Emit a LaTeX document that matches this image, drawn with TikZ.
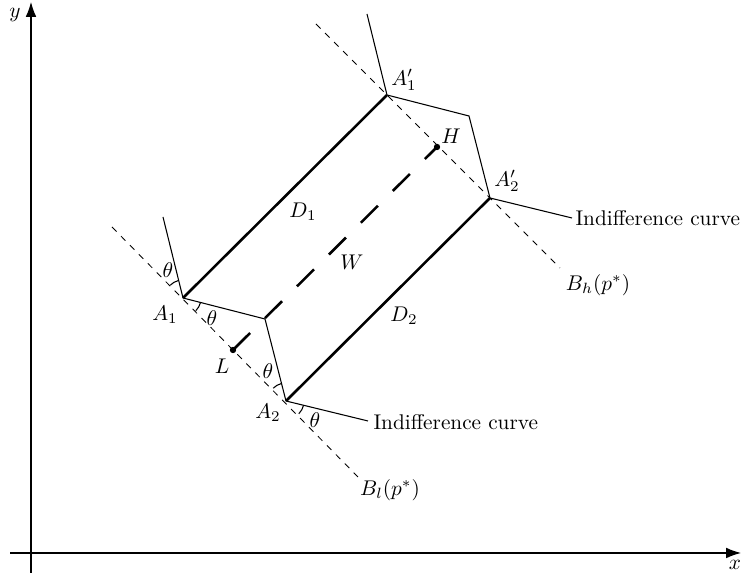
\documentclass[tikz,border=0pt]{standalone}
\usetikzlibrary{arrows.meta}
\begin{document}
\begin{tikzpicture}[x=0.47pt,y=0.47pt,
  axis/.style={line width=0.5pt,-{Latex[length=7pt,width=5pt]}},
  budget/.style={dashed,line width=0.4pt},
  demand/.style={line width=1.2pt},
  wline/.style={line width=1.2pt,dash pattern=on 11.3pt off 9.9pt},
  icurve/.style={line width=0.5pt},
  angarc/.style={line width=0.5pt},
  dot/.style={circle,fill,inner sep=0pt,minimum size=3pt},
  lbl/.style={inner sep=1pt}]
\useasboundingbox (0,0) rectangle (742,573);
% axes
\coordinate (ybot) at (31,0);
\coordinate (ytop) at (31,571);
\coordinate (xl) at (10,20);
\coordinate (xr) at (741,20);
\draw[axis] (ybot) -- (ytop);
\draw[axis] (xl) -- (xr);
\node[lbl] (ylab) at (15,558) {$y$};
\node[lbl] (xlab) at (735,8) {$x$};
% points
\coordinate (A1) at (183,275);
\coordinate (K1) at (265,254);
\coordinate (A2) at (286,172);
\coordinate (U1) at (163,356);
\coordinate (E1) at (368,152);
\coordinate (A1p) at (387,478);
\coordinate (K2) at (469,457);
\coordinate (A2p) at (490,375);
\coordinate (U2) at (367,559);
\coordinate (E2) at (572,355);
\coordinate (Bls) at (112,346);
\coordinate (Ble) at (358,96);
\coordinate (Bhs) at (316,549);
\coordinate (Bhe) at (560,305);
\node[dot] (L) at (233,223) {};
\node[dot] (H) at (437,426) {};
% budget lines
\draw[budget] (Bls) -- (Ble);
\draw[budget] (Bhs) -- (Bhe);
% indifference curves
\draw[icurve] (U1) -- (A1) -- (K1) -- (A2) -- (E1);
\draw[icurve] (U2) -- (A1p) -- (K2) -- (A2p) -- (E2);
% demand lines
\draw[demand] (A1) -- (A1p);
\draw[demand] (A2) -- (A2p);
\draw[wline] (L.center) -- (H.center);
% angle arcs
\draw[angarc] ([shift={(104:8.5pt)}]A1) arc[start angle=104,end angle=135,radius=8.5pt];
\draw[angarc] ([shift={(-45:8.5pt)}]A1) arc[start angle=-45,end angle=-14,radius=8.5pt];
\draw[angarc] ([shift={(104:8.5pt)}]A2) arc[start angle=104,end angle=135,radius=8.5pt];
\draw[angarc] ([shift={(-45:8.5pt)}]A2) arc[start angle=-45,end angle=-13,radius=8.5pt];
\node[lbl] (t1) at (168,303) {$\theta$};
\node[lbl] (t2) at (212,255) {$\theta$};
\node[lbl] (t3) at (268,202) {$\theta$};
\node[lbl] (t4) at (315,153) {$\theta$};
% labels
\node[lbl] (lA1) at (165,258) {$A_1$};
\node[lbl] (lA2) at (268,160) {$A_2$};
\node[lbl] (lA1p) at (404,493) {$A_1'$};
\node[lbl] (lA2p) at (507,392) {$A_2'$};
\node[lbl] (lH) at (451,437) {$H$};
\node[lbl] (lL) at (222,207) {$L$};
\node[lbl] (lD1) at (303,361) {$D_1$};
\node[lbl] (lW) at (352,311) {$W$};
\node[lbl] (lD2) at (404,257) {$D_2$};
\node[lbl] (lBh) at (598,288) {$B_h(p^*)$};
\node[lbl] (lBl) at (390,83) {$B_l(p^*)$};
\node[lbl,anchor=west] (ic1) at (573,355) {Indifference curve};
\node[lbl,anchor=west] (ic2) at (371,151) {Indifference curve};
\end{tikzpicture}
\end{document}
